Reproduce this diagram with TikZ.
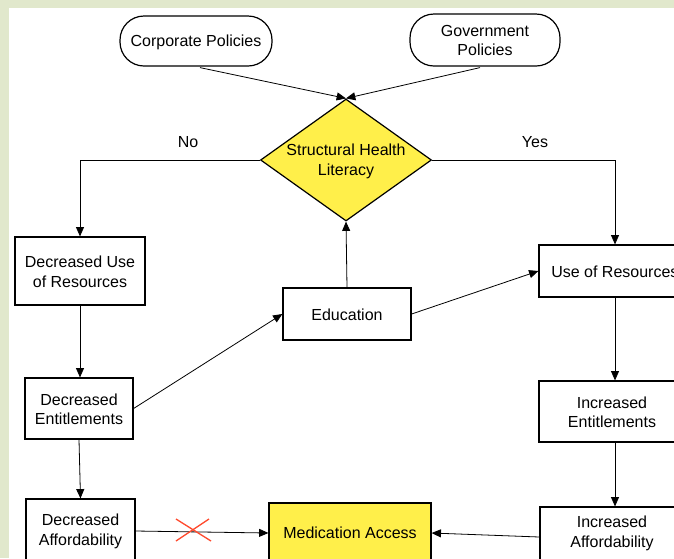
\documentclass[tikz,border=0pt]{standalone}
\usepackage{fontspec}
\setmainfont{Liberation Sans}
\usetikzlibrary{shapes.geometric,arrows.meta}
\definecolor{bggreen}{HTML}{E1E8CC}
\definecolor{hlyellow}{HTML}{FFEF4A}
\definecolor{xred}{HTML}{FF4A2E}
\begin{document}
\begin{tikzpicture}[x=0.75pt,y=-0.75pt,
  every node/.style={font=\fontsize{12pt}{14.6pt}\selectfont, align=center, inner sep=0pt},
  boxn/.style={draw, line width=0.9pt, fill=white},
  pill/.style={draw, line width=0.9pt, rounded corners=18pt, fill=white},
  dia/.style={draw, line width=0.9pt, fill=hlyellow, diamond, minimum width=171*0.75pt, minimum height=122*0.75pt, aspect=1.4},
  conn/.style={line width=0.6pt, -{Triangle[length=7pt,width=6pt]}},
  lbl/.style={font=\fontsize{12pt}{14.6pt}\selectfont}]
\useasboundingbox (0,0) rectangle (674,558);
\clip (0,0) rectangle (674,558);
\fill[bggreen] (0,0) rectangle (674,558);
\fill[white] (9,8) rectangle (680,565);

% nodes
\node[pill, minimum width=152*0.75pt, minimum height=50*0.75pt] (corp) at (196,41) {};
\node at (196,42) {Corporate Policies};
\node[pill, minimum width=150*0.75pt, minimum height=52*0.75pt] (gov) at (485,40) {};
\node at (485,40.5) {Government\\Policies};
\node[dia] (shl) at (346,160) {};
\node at (346,161.5) {Structural Health\\Literacy};
\node[boxn, minimum width=130*0.75pt, minimum height=68*0.75pt] (dur) at (80,271) {};
\node at (80,272) {Decreased Use\\of Resources};
\node[boxn, minimum width=146*0.75pt, minimum height=52*0.75pt] (ur) at (612,271) {};
\node[anchor=west] at (551,272) {Use of Resources};
\node[boxn, minimum width=128*0.75pt, minimum height=52*0.75pt] (edu) at (347,314) {};
\node at (347,315) {Education};
\node[boxn, minimum width=108*0.75pt, minimum height=61*0.75pt] (dent) at (79,408.5) {};
\node at (79,409.5) {Decreased\\Entitlements};
\node[boxn, minimum width=141*0.75pt, minimum height=61*0.75pt] (ient) at (609.5,411.5) {};
\node at (612,412.5) {Increased\\Entitlements};
\node[boxn, minimum width=109*0.75pt, minimum height=64*0.75pt] (daff) at (80.5,531) {};
\node at (80.5,531.5) {Decreased\\Affordability};
\node[boxn, fill=hlyellow, minimum width=162*0.75pt, minimum height=60*0.75pt] (med) at (350,533) {};
\node at (350,533) {Medication Access};
\node[boxn, minimum width=140*0.75pt, minimum height=60*0.75pt] (iaff) at (610,537) {};
\node at (612,533.5) {Increased\\Affordability};

% labels
\node[lbl] (no) at (188,142.5) {No};
\node[lbl] (yes) at (535,142.5) {Yes};

% connectors
\draw[conn] (corp.south) ++(4,1) coordinate (c1) -- (shl.north);
\draw[conn] (gov.south) ++(-5,1) coordinate (g1) -- (shl.north);
\draw[conn] (shl.west) -| (dur.north);
\draw[conn] (shl.east) -| (ur.north -| 615,0);
\draw[conn] (edu.north) -- (shl.south);
\draw[conn] (edu.east) -- (ur.west);
\draw[conn] (dur.south) -- (dent.north -| dur.south);
\draw[conn] (dent.east) -- (edu.west);
\draw[conn] (dent.south) -- (daff.north);
\draw[conn] (daff.east) -- (med.west);
\draw[conn] (ur.south -| 615,0) -- (ient.north -| 615,0);
\draw[conn] (ient.south -| 615,0) -- (iaff.north -| 615,0);
\draw[conn] (iaff.west) -- (med.east);

% red cross
\coordinate (xc) at (193,530);
\draw[xred, line width=1pt] (176,519) -- (211,541);
\draw[xred, line width=1pt] (176,541) -- (209,519);
\end{tikzpicture}
\end{document}
